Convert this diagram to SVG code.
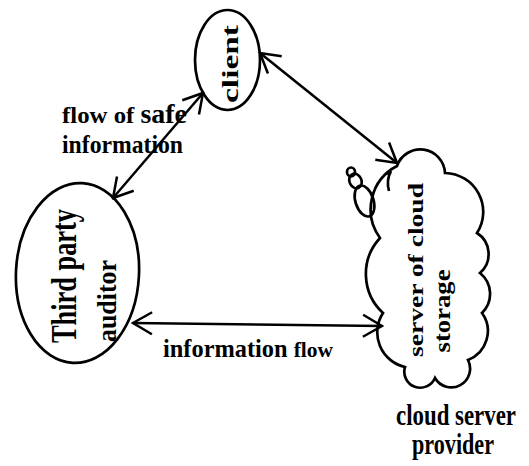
<svg xmlns="http://www.w3.org/2000/svg" width="529" height="466" viewBox="0 0 529 466">
<style>
.shape{fill:none;stroke:#000;stroke-width:2.7}
.conn{fill:none;stroke:#000;stroke-width:2.5}
text{font-family:"Liberation Serif","DejaVu Serif",serif;fill:#000}
.b{font-weight:bold}
</style>
<defs>
<marker id="ah" viewBox="-22 -13 24 26" refX="0" refY="0" markerWidth="24" markerHeight="26" markerUnits="userSpaceOnUse" orient="auto-start-reverse">
<path d="M -19 -11 L 0 0 L -19 11" fill="none" stroke="#000" stroke-width="2.5"/>
</marker>
</defs>
<rect width="529" height="466" fill="#fff"/>
<g id="connectors">
<line class="conn" x1="260" y1="53" x2="397" y2="163" marker-start="url(#ah)" marker-end="url(#ah)"/>
<line class="conn" x1="203" y1="93" x2="113" y2="198" marker-start="url(#ah)" marker-end="url(#ah)"/>
<line class="conn" x1="133" y1="323" x2="382" y2="326" marker-start="url(#ah)" marker-end="url(#ah)"/>
<text class="b" font-size="24" x="62" y="123" textLength="125" lengthAdjust="spacingAndGlyphs">flow of <tspan font-size="27">safe</tspan></text>
<text class="b" font-size="25" x="62" y="153" textLength="121" lengthAdjust="spacingAndGlyphs">information</text>
<text class="b" font-size="25" x="163" y="357" textLength="170" lengthAdjust="spacingAndGlyphs">information <tspan font-size="22">flow</tspan></text>
</g>
<g id="client">
<ellipse class="shape" cx="227.5" cy="60" rx="32.5" ry="50"/>
<text class="b" font-size="24" text-anchor="middle" textLength="78" lengthAdjust="spacingAndGlyphs" transform="translate(238,64) rotate(-90)">client</text>
</g>
<g id="auditor">
<ellipse class="shape" cx="77.5" cy="273" rx="61.5" ry="90" transform="rotate(3 77.5 273)"/>
<text class="b" font-size="35" text-anchor="middle" textLength="134" lengthAdjust="spacingAndGlyphs" transform="translate(76,276) rotate(-90)">Third party</text>
<text class="b" font-size="27" text-anchor="middle" textLength="82" lengthAdjust="spacingAndGlyphs" transform="translate(116,301) rotate(-90)">auditor</text>
</g>
<g id="cloud">
<path class="shape" d="M 397 166 A 24.7 24.7 0 0 1 445 173 A 38.9 38.9 0 0 1 477 233 A 25 25 0 0 1 480 273 A 26.7 26.7 0 0 1 482 313 A 31 31 0 0 1 468 360 A 18.8 18.8 0 0 1 435 378 A 16 16 0 0 1 405 367 A 35.5 35.5 0 0 1 383 313 A 53 53 0 0 1 380 238 A 48.8 48.8 0 0 1 397 166 Z"/>
<ellipse class="shape" cx="364.5" cy="201" rx="9" ry="16" transform="rotate(-18 364.5 201)"/>
<ellipse class="shape" cx="355.5" cy="181" rx="6" ry="7.5" transform="rotate(-25 355.5 181)"/>
<ellipse class="shape" cx="351" cy="172" rx="4" ry="4.5"/>
<path class="shape" d="M 389 191 Q 386 180 391 171 M 386 174 L 391 171"/>
<text class="b" font-size="22" text-anchor="middle" textLength="174" lengthAdjust="spacingAndGlyphs" transform="translate(423,270) rotate(-90)">server of cloud</text>
<text class="b" font-size="23" text-anchor="middle" textLength="83" lengthAdjust="spacingAndGlyphs" transform="translate(450,311) rotate(-90)">storage</text>
</g>
<g id="provider-label">
<text class="b" font-size="23" x="0" y="0" textLength="120" lengthAdjust="spacingAndGlyphs" transform="translate(396,425) scale(1,1.25)">cloud server</text>
<text class="b" font-size="23" x="0" y="0" textLength="82" lengthAdjust="spacingAndGlyphs" transform="translate(412,454) scale(1,1.25)">provider</text>
</g>
</svg>
